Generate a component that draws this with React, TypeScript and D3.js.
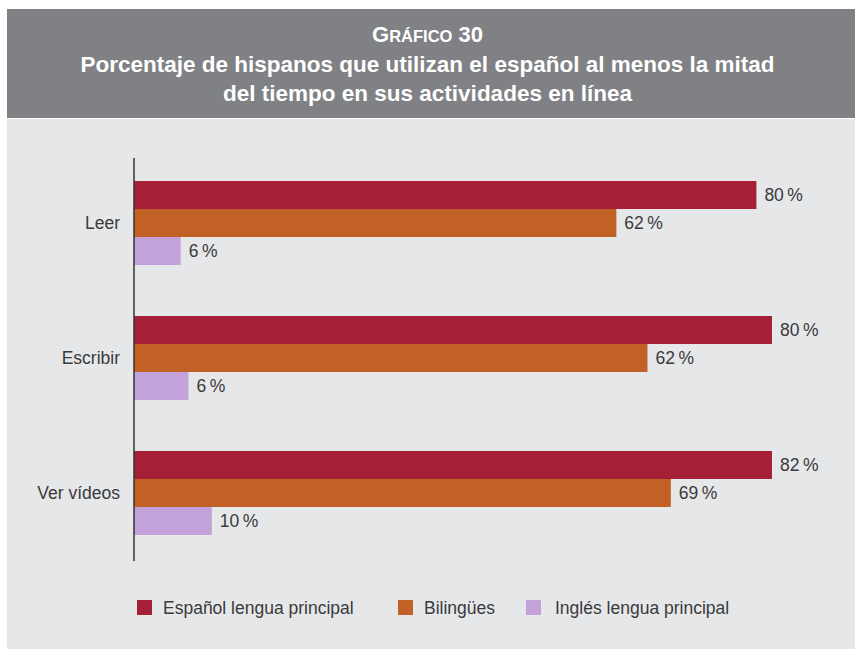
import { useEffect, useRef } from "react";
import * as d3 from "d3";

// categories and series
const categories = ["Leer", "Escribir", "Ver vídeos"];
const series = ["Español lengua principal", "Bilingües", "Inglés lengua principal"];
const colors = ["#a51f36", "#c26126", "#c3a1da"];

// bar lengths (percent)
const espanol = [80, 82, 82];
const bilingues = [62, 66, 69];
const ingles = [6, 7, 10];

// printed labels
const espanolLabels = ["80", "80", "82"];
const bilinguesLabels = ["62", "62", "69"];
const inglesLabels = ["6", "6", "10"];

const W = 855;
const H = 650;

const App = () => {
  const ref = useRef<SVGSVGElement | null>(null);

  useEffect(() => {
    const svg = d3.select(ref.current);
    svg.selectAll("*").remove();
    const font = "'Liberation Sans', Arial, Helvetica, sans-serif";
    const fs = 17.5;

    // backgrounds
    svg.append("rect").attr("x", 7).attr("y", 119).attr("width", W - 7).attr("height", 530).attr("fill", "#e6e7e9");
    svg.append("rect").attr("x", 7).attr("y", 9).attr("width", W - 7).attr("height", 109).attr("fill", "#808184");

    // title
    const t = svg.append("text").attr("x", W / 2).attr("y", 42).attr("text-anchor", "middle")
      .attr("fill", "#fff").attr("font-family", font).attr("font-weight", "bold");
    t.append("tspan").attr("font-size", 22).text("G");
    t.append("tspan").attr("font-size", 16.5).text("RÁFICO");
    t.append("tspan").attr("font-size", 22).text(" 30");
    svg.append("text").attr("x", W / 2).attr("y", 72).attr("text-anchor", "middle")
      .attr("fill", "#fff").attr("font-family", font).attr("font-weight", "bold").attr("font-size", 22.5)
      .text("Porcentaje de hispanos que utilizan el español al menos la mitad");
    svg.append("text").attr("x", W / 2).attr("y", 101).attr("text-anchor", "middle")
      .attr("fill", "#fff").attr("font-family", font).attr("font-weight", "bold").attr("font-size", 22.5)
      .text("del tiempo en sus actividades en línea");

    const x0 = 134;
    const x = d3.scaleLinear().domain([0, 100]).range([x0, x0 + 778]);
    const y = d3.scaleBand<string>().domain(categories).range([130, 586])
      .paddingInner(0.378).paddingOuter(0.378);
    const yi = d3.scaleBand<string>().domain(series).range([0, y.bandwidth()]);

    const values = [espanol, bilingues, ingles];
    const labels = [espanolLabels, bilinguesLabels, inglesLabels];
    const data = categories.flatMap((c, ci) =>
      series.map((s, si) => ({ c, s, si, v: values[si][ci], label: labels[si][ci] }))
    );

    const g = svg.append("g");
    g.selectAll("rect").data(data).join("rect")
      .attr("x", x(0))
      .attr("y", (d) => y(d.c)! + yi(d.s)!)
      .attr("width", (d) => x(d.v) - x(0))
      .attr("height", yi.bandwidth())
      .attr("fill", (d) => colors[d.si]);

    g.selectAll("text.val").data(data).join("text").attr("class", "val")
      .attr("x", (d) => x(d.v) + 8)
      .attr("y", (d) => y(d.c)! + yi(d.s)! + yi.bandwidth() / 2)
      .attr("dy", "0.35em")
      .attr("font-family", font).attr("font-size", fs).attr("fill", "#3a3a3a")
      .text((d) => `${d.label}\u2009%`);

    // axis line
    svg.append("line").attr("x1", x0).attr("x2", x0).attr("y1", 158).attr("y2", 561)
      .attr("stroke", "#333").attr("stroke-width", 1.5);

    // category labels
    svg.append("g").selectAll("text").data(categories).join("text")
      .attr("x", 120)
      .attr("y", (d) => y(d)! + y.bandwidth() / 2)
      .attr("dy", "0.35em")
      .attr("text-anchor", "end")
      .attr("font-family", font).attr("font-size", fs).attr("fill", "#3a3a3a")
      .text((d) => d);

    // legend
    const legX = [137, 398, 526];
    const leg = svg.append("g").selectAll("g").data(series).join("g")
      .attr("transform", (_, i) => `translate(${legX[i]},600)`);
    leg.append("rect").attr("width", 15).attr("height", 15).attr("fill", (_, i) => colors[i]);
    leg.append("text").attr("x", (_, i) => (i === 2 ? 29 : 26)).attr("y", 7.5).attr("dy", "0.35em")
      .attr("font-family", font).attr("font-size", fs).attr("fill", "#3a3a3a")
      .text((d) => d);
  }, []);

  return (
    <div style={{ position: "absolute", left: 0, top: 0 }}>
      <svg ref={ref} width={W} height={H} style={{ display: "block", background: "#fff" }} />
    </div>
  );
};

export default App;
